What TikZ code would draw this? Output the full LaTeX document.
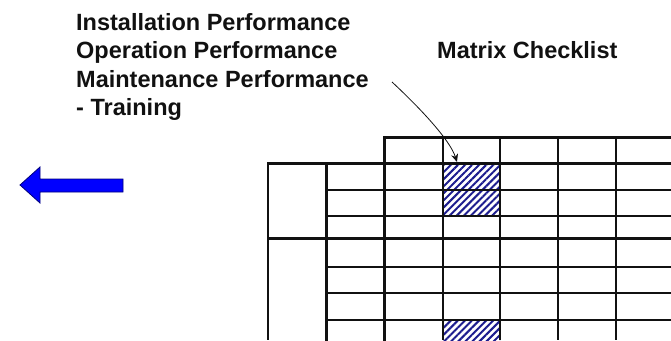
\documentclass[tikz,border=0pt]{standalone}
\usepackage{fontspec}
\setmainfont{Liberation Sans}
\usetikzlibrary{calc,arrows.meta,patterns.meta}
\definecolor{ink}{HTML}{111111}
\definecolor{hatchblue}{HTML}{1C1C8E}
\definecolor{arrowblue}{HTML}{0000FF}
\definecolor{arrowedge}{HTML}{00007A}
\newcommand{\Lab}{\fontsize{23.5}{28.5}\selectfont\bfseries}

\begin{document}
\begin{tikzpicture}[x=1pt,y=-1pt, font=\Lab,
    heavy/.style={draw=ink,line width=3pt,line cap=rect},
    light/.style={draw=ink,line width=1.6pt},
    hatchcell/.style={inner sep=0pt,minimum width=57pt,pattern={Lines[angle=45,distance=5pt,line width=2pt]},pattern color=hatchblue}]
      \useasboundingbox (0,0) rectangle (671,340);
      % labels
      \node[anchor=north west, inner sep=0pt, align=left, text=ink] (perf) at (76,13)
        {Installation Performance\\Operation Performance\\Maintenance Performance\\- Training};
      \node[anchor=base west, inner sep=0pt, text=ink] (mtx) at (437,58){Matrix Checklist};
      % hatched cells
      \node[hatchcell, minimum height=53pt] (hatchA) at (471.5,189.5){};
      \node[hatchcell, minimum height=24pt] (hatchB) at (471.5,332){};
      % grid
      \foreach \y in {190,216,267,293,320}{\draw[light](326,\y)--(671,\y);}
      \foreach \x in {443,500,558,616}{\draw[light](\x,137)--(\x,340);}
      \draw[draw=ink,line width=2.2pt](268,163)--(268,340);
      \draw[heavy](384,137)--(671,137);
      \draw[heavy](268,163)--(671,163);
      \draw[heavy](268,238)--(671,238);
      \draw[heavy](326,163)--(326,340);
      \draw[heavy](384,137)--(384,340);
      % blue arrow
      \filldraw[fill=arrowblue, draw=arrowedge, line width=0.8pt]
        (20,185)--(40,167)--(40,179)--(123,179)--(123,192)--(40,192)--(40,203)--cycle;
      % pointer
      \coordinate (lead) at (392,82);
      \draw[ink, line width=0.8pt, -{Stealth[length=8pt,width=7pt]}]
        (lead) .. controls (420,108) and (450,140) .. ([xshift=15pt]hatchA.north west);
    \end{tikzpicture}
\end{document}
